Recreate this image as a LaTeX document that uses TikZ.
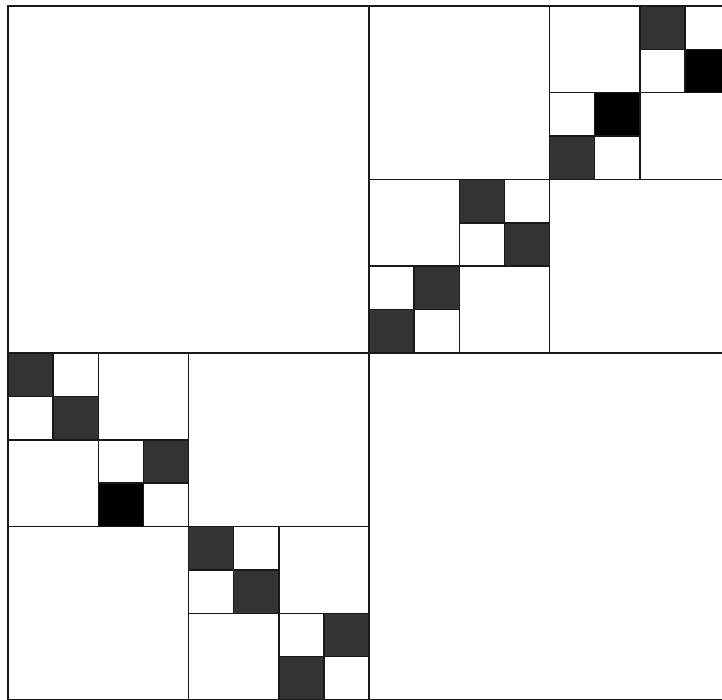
\documentclass[tikz,border=0pt]{standalone}
\definecolor{dk}{HTML}{333333}
\tikzset{bx/.style={draw=black!90,line width=1.5pt},cell/.style={draw=black!90,line width=1.5pt}}
\begin{document}
\begin{tikzpicture}[x=45.125pt,y=-43.375pt]
\useasboundingbox (-8pt,6pt) rectangle (714pt,-694pt);
% filled leaf cells: col/row/colour
\foreach\x/\y/\f in {14/0/dk,15/1/black,13/2/black,12/3/dk,10/4/dk,11/5/dk,9/6/dk,8/7/dk,0/8/dk,1/9/dk,3/10/dk,2/11/black,4/12/dk,5/13/dk,7/14/dk,6/15/dk}{\fill[fill=\f](\x,\y) rectangle ++(1,1);}
% big blocks: col/row/size
\foreach\x/\y/\s in {0/0/8,8/0/8,0/8/8,8/8/8,8/0/4,12/0/4,8/4/4,12/4/4,0/8/4,4/8/4,0/12/4,4/12/4}{\draw[bx](\x,\y) rectangle ++(\s,\s);}
\foreach\x/\y in {12/0,8/4,0/8,4/12}{\foreach\a/\b in {0/0,2/0,0/2,2/2}{\draw[bx](\x+\a,\y+\b) rectangle ++(2,2);}}
% leaves
\foreach\x/\y in {14/0,12/2,10/4,8/6,0/8,2/10,4/12,6/14}{\foreach\a/\b in {0/0,1/0,0/1,1/1}{\draw[cell](\x+\a,\y+\b) rectangle ++(1,1);}}
\end{tikzpicture}
\end{document}
